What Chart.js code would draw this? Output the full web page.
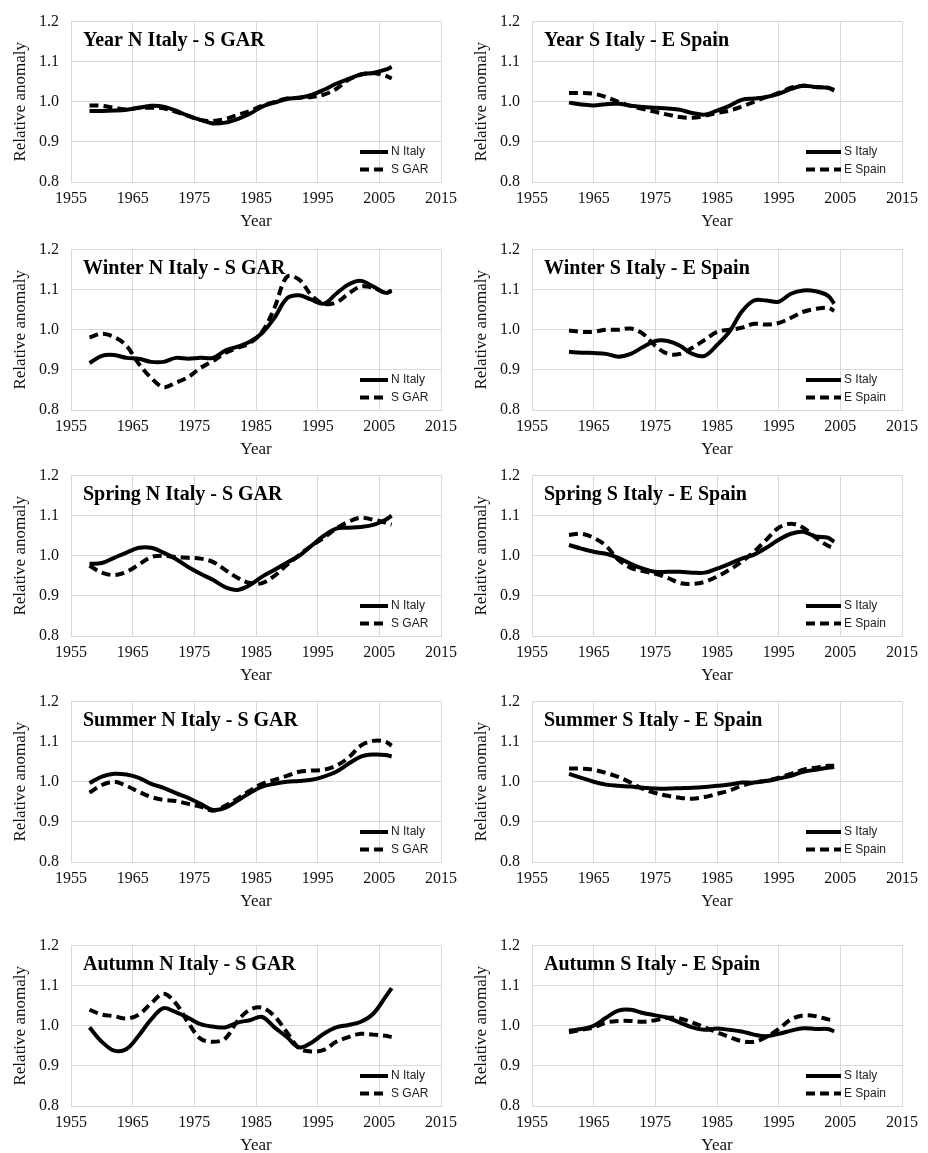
<!DOCTYPE html>
<html>
<head>
<meta charset="utf-8">
<script src="https://cdn.jsdelivr.net/npm/chart.js@4.4.1/dist/chart.umd.min.js"></script>
<style>
  body { margin: 0; background: #fff; }
  #wrap { position: relative; width: 928px; height: 1153px; }
  #wrap canvas { position: absolute; }
</style>
</head>
<body>
<div id="wrap"></div>
<script>
// x values (years) for the two regions
const yearsN = [1958,1960,1962,1964,1966,1968,1970,1972,1974,1976,1978,1980,1982,1984,1986,1988,1990,1992,1994,1996,1998,2000,2002,2004,2006,2007];
const yearsS = [1961,1963,1965,1967,1969,1971,1973,1975,1977,1979,1981,1983,1985,1987,1989,1991,1993,1995,1997,1999,2001,2003,2004];

const xTicks = [1955, 1965, 1975, 1985, 1995, 2005, 2015];
const yTicks = [0.8, 0.9, 1.0, 1.1, 1.2];

// Year
const yearNItaly = [.977,.977,.978,.980,.985,.990,.988,.978,.965,.955,.946,.948,.957,.970,.988,.998,1.007,1.010,1.017,1.030,1.045,1.057,1.068,1.072,1.080,1.087];
const yearSGAR   = [.991,.990,.985,.981,.985,.985,.984,.975,.965,.955,.952,.957,.967,.977,.990,1.000,1.008,1.010,1.012,1.018,1.032,1.055,1.068,1.072,1.065,1.058];
const yearSItaly = [.998,.993,.991,.994,.995,.990,.987,.985,.983,.980,.972,.968,.978,.990,1.005,1.008,1.012,1.020,1.032,1.040,1.037,1.035,1.028];
const yearESpain = [1.022,1.022,1.020,1.012,1.000,.990,.982,.975,.968,.962,.960,.965,.972,.978,.988,1.000,1.012,1.022,1.035,1.040,1.037,1.035,1.030];

// Winter
const winNItaly = [.917,.935,.937,.930,.928,.920,.920,.930,.928,.930,.930,.948,.958,.970,.992,1.030,1.078,1.086,1.075,1.065,1.090,1.113,1.122,1.108,1.092,1.097];
const winSGAR   = [.981,.990,.982,.960,.915,.880,.857,.868,.882,.905,.922,.942,.955,.967,.995,1.055,1.132,1.125,1.086,1.065,1.068,1.090,1.108,1.105,1.092,1.098];
const winSItaly = [.945,.943,.942,.940,.933,.940,.957,.972,.972,.960,.940,.935,.962,.995,1.045,1.073,1.073,1.070,1.090,1.098,1.096,1.085,1.065];
const winESpain = [.998,.995,.995,1.000,1.000,1.003,.990,.960,.940,.940,.955,.975,.995,1.000,1.005,1.015,1.013,1.017,1.030,1.045,1.052,1.055,1.047];

// Spring
const sprNItaly = [.980,.982,.995,1.008,1.020,1.020,1.008,.992,.972,.955,.940,.922,.915,.927,.948,.965,.983,1.000,1.025,1.050,1.068,1.070,1.072,1.077,1.090,1.100];
const sprSGAR   = [.975,.958,.952,.960,.978,.997,1.000,.997,.995,.993,.985,.965,.945,.932,.932,.950,.977,1.002,1.025,1.045,1.068,1.085,1.095,1.090,1.083,1.078];
const sprSItaly = [1.027,1.018,1.010,1.005,.995,.980,.968,.960,.960,.960,.958,.958,.968,.980,.993,1.003,1.020,1.040,1.055,1.060,1.048,1.045,1.035];
const sprESpain = [1.052,1.055,1.045,1.025,.990,.970,.962,.955,.945,.932,.930,.935,.948,.965,.985,1.010,1.040,1.070,1.080,1.070,1.045,1.025,1.020];

// Summer
const sumNItaly = [.997,1.013,1.020,1.018,1.010,.995,.985,.972,.960,.945,.930,.935,.953,.972,.988,.995,1.000,1.002,1.005,1.013,1.025,1.045,1.063,1.068,1.067,1.063];
const sumSGAR   = [.973,.992,1.000,.990,.975,.962,.955,.952,.945,.938,.928,.940,.958,.978,.995,1.005,1.015,1.025,1.028,1.030,1.040,1.060,1.090,1.102,1.100,1.090];
const sumSItaly = [1.020,1.010,1.000,.993,.990,.988,.985,.983,.983,.984,.985,.987,.990,.993,.998,.998,1.002,1.008,1.015,1.025,1.030,1.035,1.037];
const sumESpain = [1.033,1.033,1.030,1.022,1.012,.998,.982,.972,.965,.960,.958,.962,.970,.978,.990,.998,1.003,1.010,1.020,1.030,1.035,1.040,1.040];

// Autumn
const autNItaly = [.996,.960,.938,.942,.976,1.016,1.044,1.034,1.020,1.004,.998,.996,1.008,1.014,1.022,.996,.972,.946,.958,.980,.996,1.002,1.010,1.030,1.072,1.094];
const autSGAR   = [1.040,1.028,1.024,1.018,1.028,1.056,1.080,1.056,1.008,.968,.960,.968,1.012,1.040,1.045,1.024,.984,.944,.936,.940,.960,.972,.980,.978,.975,.972];
const autSItaly = [.988,.992,1.000,1.020,1.038,1.040,1.032,1.026,1.020,1.008,.996,.990,.993,.990,.986,.978,.974,.980,.988,.994,.992,.992,.986];
const autESpain = [.984,.990,.996,1.008,1.012,1.012,1.010,1.014,1.020,1.018,1.008,.996,.984,.972,.962,.960,.972,.992,1.016,1.026,1.024,1.016,1.014];

const panels = [
  { title: 'Year N Italy - S GAR',     x: yearsN, a: yearNItaly, b: yearSGAR,   la: 'N Italy', lb: 'S GAR',   col: 0, row: 0 },
  { title: 'Year S Italy - E Spain',   x: yearsS, a: yearSItaly, b: yearESpain, la: 'S Italy', lb: 'E Spain', col: 1, row: 0 },
  { title: 'Winter N Italy - S GAR',   x: yearsN, a: winNItaly,  b: winSGAR,    la: 'N Italy', lb: 'S GAR',   col: 0, row: 1 },
  { title: 'Winter S Italy - E Spain', x: yearsS, a: winSItaly,  b: winESpain,  la: 'S Italy', lb: 'E Spain', col: 1, row: 1 },
  { title: 'Spring N Italy - S GAR',   x: yearsN, a: sprNItaly,  b: sprSGAR,    la: 'N Italy', lb: 'S GAR',   col: 0, row: 2 },
  { title: 'Spring S Italy - E Spain', x: yearsS, a: sprSItaly,  b: sprESpain,  la: 'S Italy', lb: 'E Spain', col: 1, row: 2 },
  { title: 'Summer N Italy - S GAR',   x: yearsN, a: sumNItaly,  b: sumSGAR,    la: 'N Italy', lb: 'S GAR',   col: 0, row: 3 },
  { title: 'Summer S Italy - E Spain', x: yearsS, a: sumSItaly,  b: sumESpain,  la: 'S Italy', lb: 'E Spain', col: 1, row: 3 },
  { title: 'Autumn N Italy - S GAR',   x: yearsN, a: autNItaly,  b: autSGAR,    la: 'N Italy', lb: 'S GAR',   col: 0, row: 4 },
  { title: 'Autumn S Italy - E Spain', x: yearsS, a: autSItaly,  b: autESpain,  la: 'S Italy', lb: 'E Spain', col: 1, row: 4 }
];

const colLeft = [0, 461];
const rowTop = [0, 228, 454, 680, 924];

// title and legend drawn inside the plot area, like the Excel originals
const insideText = {
  id: 'insideText',
  afterDraw(chart, args, opts) {
    const { ctx, chartArea } = chart;
    ctx.save();
    ctx.fillStyle = '#000';
    ctx.textBaseline = 'middle';
    ctx.font = 'bold 20px "Liberation Serif"';
    ctx.fillText(opts.title, chartArea.left + 12, chartArea.top + 19);

    ctx.font = '12px "Liberation Sans"';
    ctx.fillStyle = '#222';
    chart.data.datasets.forEach((ds, i) => {
      const y = chartArea.bottom - 30 + i * 17.5;
      const x0 = chartArea.left + opts.legendX;
      ctx.beginPath();
      ctx.strokeStyle = '#000';
      ctx.lineWidth = 4;
      ctx.setLineDash(ds.borderDash || []);
      ctx.moveTo(x0, y);
      ctx.lineTo(x0 + opts.legendLen, y);
      ctx.stroke();
      ctx.fillText(ds.label, x0 + opts.legendLen + 3, y);
    });
    ctx.restore();
  }
};

Chart.defaults.font.family = '"Liberation Serif", "Times New Roman", serif';
Chart.defaults.color = '#111';

panels.forEach((p) => {
  const canvas = document.createElement('canvas');
  canvas.width = 464;
  canvas.height = 232;
  canvas.style.left = colLeft[p.col] + 'px';
  canvas.style.top = rowTop[p.row] + 'px';
  document.getElementById('wrap').appendChild(canvas);

  const toPts = (vals) => vals.map((v, i) => ({ x: p.x[i], y: v }));

  new Chart(canvas, {
    type: 'line',
    data: {
      datasets: [
        { label: p.la, data: toPts(p.a), borderColor: '#000', borderWidth: 4, pointRadius: 0, tension: 0.35, fill: false },
        { label: p.lb, data: toPts(p.b), borderColor: '#000', borderWidth: 4, borderDash: [9, 5], pointRadius: 0, tension: 0.35, fill: false }
      ]
    },
    options: {
      responsive: false,
      animation: false,
      devicePixelRatio: 1,
      layout: { padding: { top: 16, right: 23, left: 0, bottom: 0 } },
      plugins: {
        legend: { display: false },
        tooltip: { enabled: false },
        insideText: {
          title: p.title,
          legendX: p.col === 0 ? 289 : 274,
          legendLen: p.col === 0 ? 28 : 35
        }
      },
      scales: {
        x: {
          type: 'linear',
          min: xTicks[0],
          max: xTicks[xTicks.length - 1],
          afterBuildTicks: (scale) => { scale.ticks = xTicks.map(v => ({ value: v })); },
          afterFit: (scale) => { scale.height = 50; },
          ticks: { font: { size: 16 }, padding: 7, callback: (v) => String(v), maxRotation: 0 },
          grid: { color: '#d9d9d9', lineWidth: 1, drawTicks: false },
          border: { color: '#d9d9d9' },
          title: { display: true, text: 'Year', font: { size: 17 }, padding: 0 }
        },
        y: {
          min: yTicks[0],
          max: yTicks[yTicks.length - 1],
          afterBuildTicks: (scale) => { scale.ticks = yTicks.map(v => ({ value: v })); },
          afterFit: (scale) => { scale.width = 71; },
          ticks: { font: { size: 16 }, padding: 12, callback: (v) => Number(v).toFixed(1) },
          grid: { color: '#d9d9d9', lineWidth: 1, drawTicks: false },
          border: { color: '#d9d9d9' },
          title: { display: true, text: 'Relative anomaly', font: { size: 17 }, padding: { top: 10, bottom: 0 } }
        }
      }
    },
    plugins: [insideText]
  });
});
</script>
</body>
</html>
